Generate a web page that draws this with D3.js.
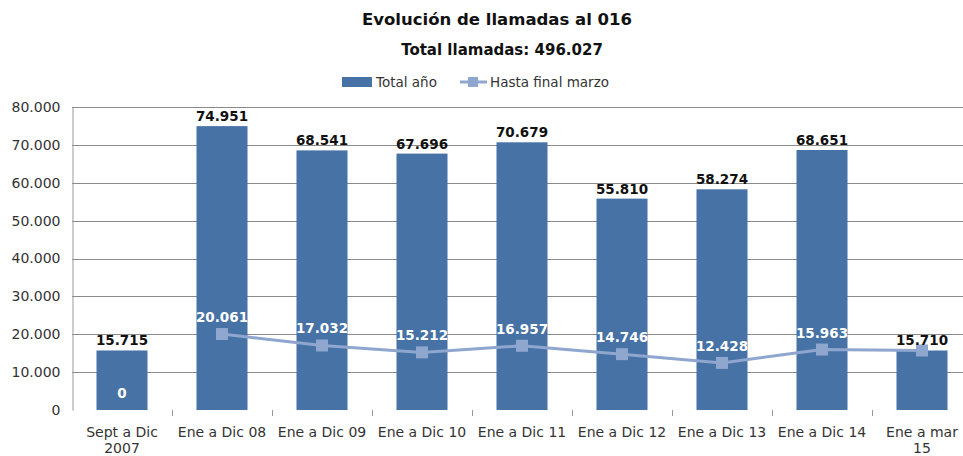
<!DOCTYPE html>
<html>
<head>
<meta charset="utf-8">
<script src="https://cdn.jsdelivr.net/npm/d3@7"></script>
<style>
  body { margin: 0; background: #fff; }
  svg text { font-family: "DejaVu Sans", Lato, sans-serif; }
</style>
</head>
<body>
<div id="chart"></div>
<script>
// Data
const categories = ['Sept a Dic 2007', 'Ene a Dic 08', 'Ene a Dic 09', 'Ene a Dic 10', 'Ene a Dic 11',
    'Ene a Dic 12', 'Ene a Dic 13', 'Ene a Dic 14', 'Ene a mar 15'];
const totalAno = [15715, 74951, 68541, 67696, 70679, 55810, 58274, 68651, 15710];
const hastaMarzo = [0, 20061, 17032, 15212, 16957, 14746, 12428, 15963, 15710];
const yTicks = [0, 10000, 20000, 30000, 40000, 50000, 60000, 70000, 80000];

const fmt = v => d3.format(',')(v).replace(/,/g, '.');

const W = 963, H = 456;
const margin = {top: 107, right: -9, bottom: 46, left: 72};
const width = W - margin.left - margin.right;
const height = H - margin.top - margin.bottom;

const svg = d3.select('#chart').append('svg').attr('width', W).attr('height', H);

// Titles
svg.append('text').attr('x', 497).attr('y', 25).attr('text-anchor', 'middle')
    .style('font-size', '16.5px').style('font-weight', 'bold').attr('fill', '#111')
    .text('Evolución de llamadas al 016');
svg.append('text').attr('x', 502).attr('y', 55).attr('text-anchor', 'middle')
    .style('font-size', '15px').style('font-weight', 'bold').attr('fill', '#111')
    .text('Total llamadas: 496.027');

// Legend
const leg = svg.append('g');
leg.append('rect').attr('x', 342).attr('y', 77).attr('width', 30).attr('height', 10).attr('fill', '#4672a6');
leg.append('text').attr('x', 376).attr('y', 87).style('font-size', '13.5px').attr('fill', '#333').text('Total año');
leg.append('line').attr('x1', 460).attr('x2', 487).attr('y1', 82).attr('y2', 82)
    .attr('stroke', '#8fa6cf').attr('stroke-width', 3);
leg.append('rect').attr('x', 468).attr('y', 77).attr('width', 10).attr('height', 10).attr('fill', '#8fa6cf');
leg.append('text').attr('x', 490).attr('y', 87).style('font-size', '13.5px').attr('fill', '#333').text('Hasta final marzo');

const g = svg.append('g').attr('transform', `translate(${margin.left},${margin.top})`);

const x = d3.scaleBand().domain(categories).range([0, width]).paddingInner(0.49).paddingOuter(0.245);
const xTick = d3.scaleBand().domain(categories).range([0, width]);
const y = d3.scaleLinear().domain([0, 80000]).range([height, 0]);

// gridlines
g.selectAll('.grid').data(yTicks.filter(d => d > 0)).enter().append('line')
    .attr('x1', 0).attr('x2', width + 20)
    .attr('y1', d => Math.round(y(d)) + 0.5).attr('y2', d => Math.round(y(d)) + 0.5)
    .attr('stroke', '#8a8a8a').attr('stroke-width', 1);

// y axis
const yAxis = g.append('g').attr('transform', 'translate(0.5,0)')
    .call(d3.axisLeft(y).tickValues(yTicks).tickFormat(fmt).tickSize(0).tickPadding(12));
yAxis.select('.domain').attr('stroke', '#999');
yAxis.selectAll('text').style('font-size', '14px').attr('fill', '#333');

// x axis ticks only
const xb = g.append('g').attr('transform', `translate(0,${height})`);
xb.selectAll('line').data(categories).enter().append('line')
    .attr('x1', d => Math.round(xTick(d) + xTick.bandwidth()) + 0.5)
    .attr('x2', d => Math.round(xTick(d) + xTick.bandwidth()) + 0.5)
    .attr('y1', 0).attr('y2', 6).attr('stroke', '#999');

const xl = xb.selectAll('text').data(categories).enter().append('text')
    .attr('text-anchor', 'middle').style('font-size', '14px').attr('fill', '#333')
    .attr('transform', d => `translate(${xTick(d) + xTick.bandwidth() / 2},27)`);
xl.each(function (d) {
    const t = d3.select(this);
    const words = d.split(' ');
    if (d === categories[0] || d === categories[categories.length - 1]) {
        t.append('tspan').attr('x', 0).attr('dy', 0).text(words.slice(0, 3).join(' '));
        t.append('tspan').attr('x', 0).attr('dy', 16).text(words.slice(3).join(' '));
    } else {
        t.text(d);
    }
});

// bars
g.selectAll('.bar').data(totalAno).enter().append('rect')
    .attr('class', 'bar')
    .attr('x', (d, i) => x(categories[i]))
    .attr('y', d => y(d))
    .attr('width', x.bandwidth())
    .attr('height', d => height - y(d))
    .attr('fill', '#4672a6');

// line (first value has no marker)
const cx = i => xTick(categories[i]) + xTick.bandwidth() / 2;
const pts = hastaMarzo.map((v, i) => ({v, i})).filter(p => p.i > 0);
g.append('path').datum(pts)
    .attr('d', d3.line().x(p => cx(p.i)).y(p => y(p.v)))
    .attr('fill', 'none').attr('stroke', '#8fa6cf').attr('stroke-width', 3);
g.selectAll('.mk').data(pts).enter().append('rect')
    .attr('x', p => cx(p.i) - 6).attr('y', p => y(p.v) - 6)
    .attr('width', 12).attr('height', 12).attr('fill', '#8fa6cf');

// line labels (white); where it coincides with the bar label only the bar label shows
const lineLbl = hastaMarzo.map((v, i) => ({v, i})).filter(p => p.v !== totalAno[p.i]);
g.selectAll('.ll').data(lineLbl).enter().append('text')
    .attr('x', p => cx(p.i)).attr('y', p => y(p.v) - 12)
    .attr('text-anchor', 'middle').style('font-size', '13.5px').style('font-weight', 'bold')
    .attr('fill', '#fff').text(p => fmt(p.v));

// bar labels (black)
g.selectAll('.bl').data(totalAno).enter().append('text')
    .attr('x', (d, i) => cx(i)).attr('y', d => y(d) - 5)
    .attr('text-anchor', 'middle').style('font-size', '13.5px').style('font-weight', 'bold')
    .attr('fill', '#111').text(fmt);
</script>
</body>
</html>
